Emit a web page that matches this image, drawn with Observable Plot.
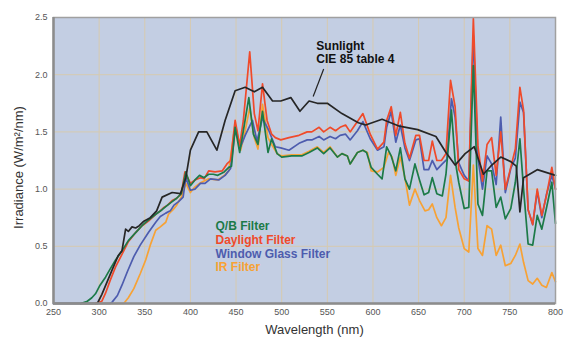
<!DOCTYPE html>
<html>
<head>
<meta charset="utf-8">
<script src="https://cdn.jsdelivr.net/npm/d3@7"></script>
<script src="https://cdn.jsdelivr.net/npm/@observablehq/plot@0.6"></script>
<style>
  html, body { margin: 0; padding: 0; background: #ffffff; }
  #chart { width: 584px; height: 354px; }
</style>
</head>
<body>
<div id="chart"></div>
<script>
// ---- data (wavelength nm, irradiance W/m²/nm) ----
const xTicks = [250, 300, 350, 400, 450, 500, 550, 600, 650, 700, 750, 800];
const yTicks = [0, 0.5, 1.0, 1.5, 2.0, 2.5];

const sunlight = [[250,0],[298,0],[303,0.08],[314,0.29],[321,0.42],[325,0.46],[329,0.65],[332,0.63],[336,0.67],[340,0.66],[344,0.68],[349,0.72],[356,0.75],[363,0.81],[369,0.93],[380,0.97],[389,0.96],[395,1.10],[400,1.34],[409,1.50],[418,1.50],[429,1.34],[438,1.60],[449,1.86],[460,1.89],[470,1.85],[479,1.89],[490,1.77],[499,1.77],[510,1.80],[520,1.68],[530,1.77],[539,1.75],[550,1.75],[566,1.66],[584,1.58],[592,1.56],[610,1.61],[629,1.55],[649,1.52],[669,1.46],[680,1.32],[690,1.21],[701,1.31],[711,1.37],[721,1.13],[729,1.20],[740,1.28],[751,1.24],[757,1.20],[761,0.80],[765,1.10],[780,1.17],[800,1.12]];

const qbFilter = [[280,0],[287,0.02],[292,0.05],[296,0.085],[301,0.16],[307,0.23],[312,0.30],[318,0.38],[325,0.46],[332,0.55],[340,0.62],[347,0.68],[354,0.73],[362,0.78],[369,0.82],[375,0.86],[380,0.89],[385,0.92],[390,0.96],[395,1.15],[400,1.03],[405,1.08],[410,1.12],[415,1.10],[420,1.13],[425,1.13],[430,1.12],[437,1.15],[442,1.19],[445,1.20],[449,1.54],[454,1.32],[458,1.51],[464,1.80],[469,1.48],[474,1.39],[479,1.68],[485,1.32],[489,1.44],[495,1.31],[500,1.28],[511,1.29],[522,1.29],[530,1.32],[539,1.36],[546,1.31],[553,1.36],[561,1.28],[566,1.31],[572,1.29],[575,1.22],[583,1.32],[589,1.34],[593,1.32],[598,1.19],[605,1.13],[610,1.09],[615,1.37],[620,1.29],[625,1.16],[630,1.36],[635,1.09],[640,1.00],[646,1.22],[651,1.08],[656,0.95],[661,0.97],[665,1.10],[670,0.96],[676,0.94],[680,1.13],[686,1.69],[690,1.25],[694,1.06],[700,0.83],[705,0.84],[710,2.08],[715,0.87],[720,0.77],[725,1.16],[730,1.16],[735,0.84],[740,0.93],[745,0.74],[751,0.83],[756,1.06],[761,1.44],[765,1.00],[770,0.52],[775,0.51],[780,0.77],[785,0.65],[790,0.83],[796,1.06],[800,0.70]];

const daylightFilter = [[296,0],[303,0.02],[307,0.09],[312,0.20],[318,0.32],[325,0.43],[332,0.54],[340,0.62],[347,0.68],[354,0.72],[362,0.78],[367,0.81],[371,0.84],[375,0.86],[380,0.90],[385,0.92],[390,0.96],[394,1.15],[400,1.05],[405,1.08],[411,1.10],[415,1.09],[420,1.16],[427,1.15],[435,1.16],[440,1.22],[444,1.25],[449,1.60],[454,1.38],[458,1.60],[465,2.20],[470,1.66],[474,1.51],[479,1.92],[484,1.60],[489,1.48],[493,1.45],[499,1.43],[508,1.45],[519,1.47],[528,1.50],[533,1.50],[541,1.54],[546,1.50],[553,1.54],[559,1.51],[564,1.54],[570,1.56],[575,1.50],[583,1.59],[589,1.66],[597,1.48],[605,1.35],[612,1.41],[615,1.60],[620,1.72],[625,1.47],[630,1.67],[635,1.40],[640,1.27],[647,1.47],[651,1.47],[656,1.25],[661,1.25],[665,1.42],[670,1.25],[675,1.25],[680,1.31],[685,1.95],[690,1.72],[694,1.17],[700,1.09],[705,1.07],[710,2.49],[715,1.38],[720,1.07],[725,1.39],[730,1.45],[735,1.12],[740,1.50],[745,1.00],[751,1.19],[756,1.35],[761,1.89],[765,1.69],[770,0.82],[775,0.69],[780,1.00],[785,0.77],[790,0.94],[796,1.19],[800,1.00]];

const windowGlassFilter = [[250,0],[312,0],[314,0.01],[320,0.07],[325,0.16],[331,0.28],[338,0.41],[345,0.51],[354,0.62],[362,0.71],[367,0.76],[373,0.79],[378,0.81],[382,0.86],[387,0.89],[392,0.93],[395,1.10],[400,0.99],[405,1.00],[411,1.05],[416,1.05],[422,1.09],[431,1.08],[438,1.12],[444,1.18],[449,1.51],[455,1.37],[460,1.47],[468,1.60],[473,1.42],[479,1.62],[486,1.51],[493,1.37],[499,1.36],[508,1.34],[519,1.40],[528,1.43],[533,1.43],[541,1.46],[546,1.43],[553,1.46],[559,1.44],[564,1.47],[570,1.48],[575,1.43],[583,1.51],[589,1.59],[597,1.44],[605,1.34],[612,1.37],[615,1.54],[620,1.68],[625,1.41],[630,1.56],[635,1.36],[640,1.25],[647,1.43],[651,1.44],[656,1.17],[661,1.17],[665,1.25],[670,1.17],[676,1.22],[681,1.26],[686,1.79],[690,1.63],[694,1.23],[700,1.12],[705,1.07],[710,2.34],[715,1.27],[720,1.00],[725,1.29],[730,1.22],[735,1.04],[740,1.63],[745,0.97],[751,1.18],[756,1.27],[761,1.76],[765,1.67],[770,0.82],[775,0.69],[780,0.98],[785,0.75],[790,0.95],[796,1.12],[800,1.00]];

const irFilter = [[280,0],[327,0],[332,0.05],[338,0.13],[345,0.26],[351,0.38],[356,0.51],[362,0.64],[367,0.67],[373,0.71],[376,0.78],[381,0.82],[385,0.86],[390,0.93],[395,1.05],[400,0.97],[405,1.02],[410,1.05],[420,1.09],[430,1.08],[437,1.12],[442,1.16],[449,1.57],[455,1.34],[459,1.47],[465,1.71],[470,1.45],[474,1.35],[479,1.74],[485,1.45],[489,1.39],[495,1.31],[500,1.29],[511,1.30],[522,1.30],[530,1.33],[539,1.37],[546,1.32],[553,1.37],[561,1.28],[566,1.31],[572,1.29],[575,1.22],[583,1.32],[589,1.34],[594,1.32],[598,1.16],[605,1.15],[612,1.19],[617,1.32],[621,1.28],[625,1.12],[630,1.28],[635,1.10],[640,0.86],[646,1.00],[651,0.90],[657,0.81],[661,0.82],[665,0.87],[670,0.75],[675,0.68],[680,0.75],[685,1.12],[690,0.84],[694,0.66],[700,0.48],[705,0.45],[710,1.21],[715,0.48],[720,0.42],[725,0.68],[730,0.65],[735,0.42],[740,0.51],[745,0.33],[751,0.35],[756,0.42],[761,0.52],[765,0.36],[770,0.20],[775,0.17],[780,0.22],[785,0.16],[790,0.14],[796,0.27],[800,0.19]];

const legendLabels = ["Q/B Filter", "Daylight Filter", "Window Glass Filter", "IR Filter"];
const legendColors = ["#1c7a48", "#f04a2a", "#4d5cae", "#f7a235"];
const legendX = 427.5;
const legendY = [0.718, 0.596, 0.476, 0.356];

const annotationText = "Sunlight\nCIE 85 table 4";
const annotationAt = {x: 538, y: 2.30};
const leader = {x1: 546, y1: 2.05, x2: 534.5, y2: 1.81};

const yTitle = "Irradiance (W/m²/nm)";
const xTitle = "Wavelength (nm)";

// ---- build ----
const toRows = (arr) => arr.map(([nm, v]) => ({nm, v}));
const lineStyles = [
  {data: irFilter, color: "#f7a235"},
  {data: windowGlassFilter, color: "#4d5cae"},
  {data: daylightFilter, color: "#f04a2a"},
  {data: qbFilter, color: "#1c7a48"},
  {data: sunlight, color: "#262626"}
];

const font = "'Liberation Sans', Arial, sans-serif";

const chart = Plot.plot({
  width: 584,
  height: 354,
  marginLeft: 53,
  marginRight: 29,
  marginTop: 17,
  marginBottom: 51,
  style: {fontFamily: font, background: "#ffffff", overflow: "visible"},
  x: {domain: [250, 800]},
  y: {domain: [0, 2.5]},
  marks: [
    Plot.frame({fill: "#c3cee3", stroke: null}),
    Plot.gridX(xTicks, {stroke: "#d6cab0", strokeOpacity: 1, strokeWidth: 1}),
    Plot.gridY(yTicks, {stroke: "#d6cab0", strokeOpacity: 1, strokeWidth: 1}),
    Plot.axisX(xTicks, {tickSize: 0, tickPadding: 5, fontSize: 9, fill: "#555", label: null}),
    Plot.axisY(yTicks, {tickSize: 0, tickPadding: 6, fontSize: 9, fill: "#555", label: null, tickFormat: d3.format(".1f")}),
    ...lineStyles.map(s => Plot.line(toRows(s.data), {x: "nm", y: "v", stroke: s.color, strokeWidth: 1.7, strokeLinejoin: "round"})),
    Plot.frame({stroke: "#a0a0a0", strokeWidth: 1.5}),
    Plot.ruleX([250], {stroke: "#8c8c8c", strokeWidth: 2.5}),
    Plot.ruleY([0], {stroke: "#8c8c8c", strokeWidth: 2.5}),
    Plot.link([leader], {x1: "x1", y1: "y1", x2: "x2", y2: "y2", stroke: "#222", strokeWidth: 1.2}),
    Plot.text([annotationText], {x: annotationAt.x, y: annotationAt.y, text: d => d, textAnchor: "start", lineAnchor: "top", lineHeight: 1.12, fontSize: 12, fontWeight: "bold", fill: "#111"}),
    Plot.text(legendLabels, {x: legendX, y: (d, i) => legendY[i], text: d => d, fill: (d, i) => legendColors[i], textAnchor: "start", lineAnchor: "top", fontSize: 12, fontWeight: "bold"}),
    Plot.text([yTitle], {frameAnchor: "left", textAnchor: "middle", lineAnchor: "middle", dx: -35, dy: 7, rotate: -90, text: d => d, fontSize: 13, fill: "#333"}),
    Plot.text([xTitle], {frameAnchor: "bottom", textAnchor: "middle", dx: 10, dy: 30, text: d => d, fontSize: 13, fill: "#333"})
  ]
});

document.getElementById("chart").appendChild(chart);
</script>
</body>
</html>
